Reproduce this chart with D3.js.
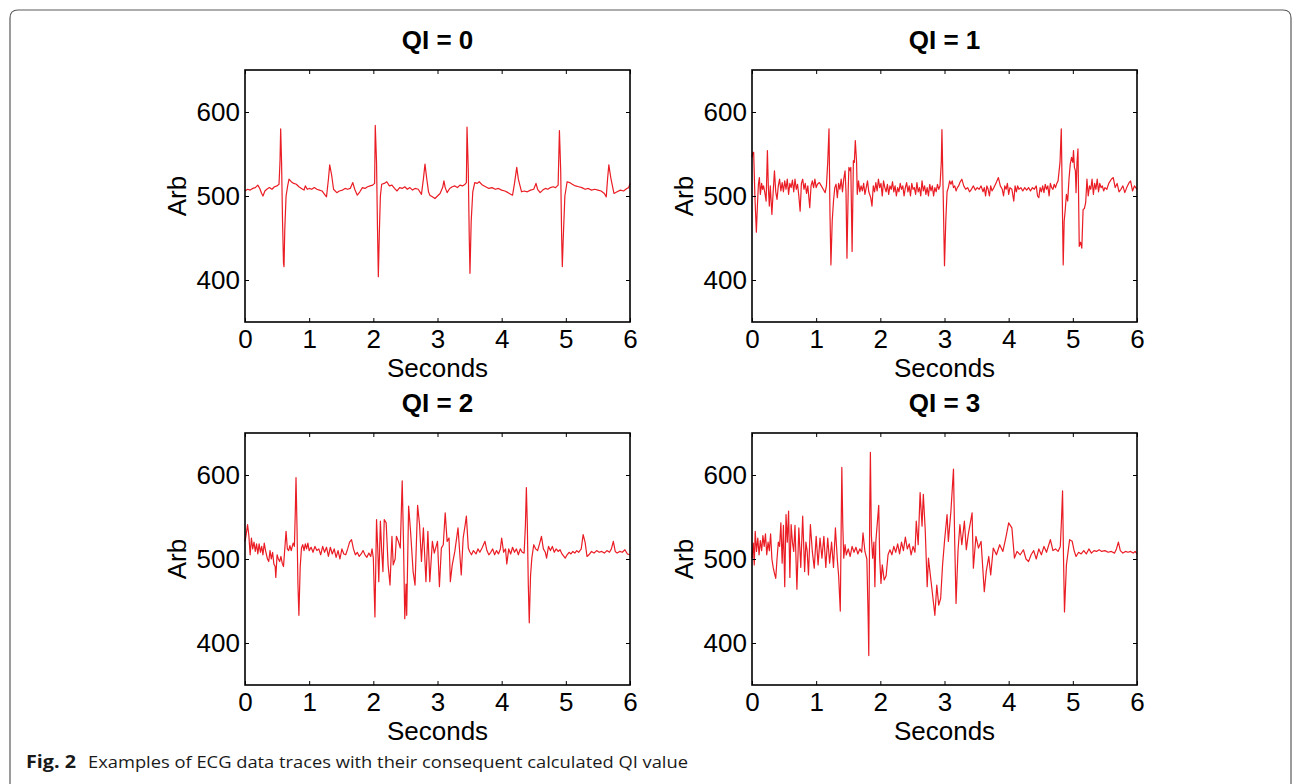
<!DOCTYPE html>
<html>
<head>
<meta charset="utf-8">
<script src="https://cdn.jsdelivr.net/npm/d3@7"></script>
<style>
    body { margin: 0; background: #ffffff; }
    svg { display: block; }
    .tick text { font-family: "Liberation Sans", Arial, sans-serif; font-size: 26px; fill: #000; }
    .tick line { stroke: #000; stroke-width: 1; }
</style>
</head>
<body>
<svg id="chart" width="1293" height="784"></svg>
<script>
// ECG traces: [seconds, arb]
var qi0 = [[0,506],[0.04,508],[0.08,507],[0.12,509],[0.16,510],[0.2,513],[0.23,509],[0.26,503],[0.28,500],[0.31,506],[0.34,508],[0.38,510],[0.42,508],[0.46,511],[0.5,512],[0.53,514],[0.545,540],[0.556,580],[0.57,540],[0.585,470],[0.6,420],[0.608,416],[0.62,460],[0.64,500],[0.665,512],[0.686,520],[0.72,517],[0.76,515],[0.8,514],[0.84,511],[0.88,509],[0.92,507],[0.94,512],[0.97,508],[1.0,509],[1.04,508],[1.08,510],[1.12,508],[1.16,507],[1.2,506],[1.24,502],[1.27,499],[1.3,520],[1.32,537],[1.35,525],[1.38,508],[1.43,504],[1.47,506],[1.52,507],[1.56,509],[1.6,508],[1.64,509],[1.68,516],[1.71,508],[1.75,501],[1.79,505],[1.83,510],[1.87,509],[1.91,511],[1.95,512],[1.99,513],[2.02,515],[2.03,584],[2.05,540],[2.065,460],[2.078,404],[2.095,460],[2.11,500],[2.13,514],[2.17,515],[2.21,517],[2.25,512],[2.29,513],[2.33,509],[2.37,506],[2.41,510],[2.45,509],[2.49,511],[2.53,508],[2.57,510],[2.61,507],[2.65,509],[2.7,508],[2.75,502],[2.78,520],[2.805,538],[2.83,522],[2.86,505],[2.88,501],[2.92,499],[2.96,497],[3.0,500],[3.04,503],[3.08,510],[3.1,518],[3.12,510],[3.15,504],[3.19,509],[3.23,511],[3.27,512],[3.31,510],[3.35,513],[3.39,512],[3.43,514],[3.45,516],[3.46,582],[3.48,530],[3.495,450],[3.506,408],[3.525,470],[3.55,505],[3.58,516],[3.62,515],[3.65,517],[3.7,513],[3.75,511],[3.8,509],[3.85,510],[3.9,508],[3.95,509],[4.0,507],[4.05,506],[4.1,504],[4.14,502],[4.17,501],[4.2,515],[4.235,534],[4.26,520],[4.31,505],[4.35,506],[4.4,505],[4.45,507],[4.5,508],[4.535,515],[4.56,508],[4.6,504],[4.64,507],[4.68,509],[4.72,508],[4.76,510],[4.8,511],[4.84,510],[4.88,513],[4.9,578],[4.92,530],[4.935,450],[4.945,416],[4.96,450],[4.985,500],[5.02,517],[5.06,516],[5.1,514],[5.15,512],[5.2,511],[5.25,510],[5.3,508],[5.35,509],[5.4,507],[5.45,508],[5.5,507],[5.55,506],[5.6,503],[5.63,499],[5.65,520],[5.67,537],[5.7,522],[5.75,503],[5.8,505],[5.85,507],[5.9,506],[5.95,509],[5.98,510],[6.0,515]];

var qi1 = [[0,546],[0.013,552],[0.026,552],[0.045,500],[0.068,457],[0.085,490],[0.1,514],[0.115,522],[0.13,502],[0.15,515],[0.165,508],[0.18,512],[0.2,504],[0.22,494],[0.24,554],[0.255,510],[0.27,488],[0.285,512],[0.31,478],[0.33,505],[0.35,530],[0.37,505],[0.39,496],[0.41,512],[0.43,520],[0.45,506],[0.47,516],[0.49,505],[0.51,518],[0.53,508],[0.55,520],[0.57,502],[0.59,515],[0.61,510],[0.63,519],[0.65,505],[0.67,520],[0.69,508],[0.71,514],[0.73,500],[0.75,482],[0.77,515],[0.79,520],[0.81,508],[0.83,515],[0.85,503],[0.87,512],[0.9,486],[0.92,512],[0.94,518],[0.96,510],[0.98,520],[1.0,510],[1.02,514],[1.05,516],[1.08,512],[1.11,508],[1.14,504],[1.16,512],[1.18,540],[1.2,580],[1.215,480],[1.23,418],[1.25,470],[1.27,494],[1.29,510],[1.31,514],[1.33,498],[1.35,515],[1.37,508],[1.39,520],[1.41,505],[1.43,520],[1.45,530],[1.465,505],[1.48,426],[1.5,510],[1.51,534],[1.53,530],[1.54,534],[1.56,434],[1.58,542],[1.595,540],[1.61,566],[1.63,540],[1.64,502],[1.66,518],[1.68,505],[1.7,512],[1.72,506],[1.74,515],[1.76,502],[1.78,510],[1.8,518],[1.82,505],[1.85,498],[1.87,488],[1.89,512],[1.91,505],[1.93,516],[1.95,506],[1.97,520],[1.99,510],[2.01,515],[2.03,500],[2.05,518],[2.07,510],[2.09,505],[2.11,514],[2.13,502],[2.15,512],[2.17,508],[2.19,517],[2.21,505],[2.23,512],[2.25,500],[2.27,510],[2.29,505],[2.31,515],[2.33,508],[2.35,512],[2.37,500],[2.39,510],[2.41,516],[2.43,505],[2.45,512],[2.47,500],[2.49,515],[2.51,508],[2.53,510],[2.55,502],[2.57,516],[2.59,505],[2.61,510],[2.63,500],[2.65,518],[2.67,506],[2.69,512],[2.71,502],[2.73,510],[2.75,500],[2.77,514],[2.79,506],[2.81,512],[2.83,500],[2.85,510],[2.87,505],[2.89,514],[2.91,508],[2.93,512],[2.95,540],[2.96,579],[2.98,500],[3.0,417],[3.02,470],[3.04,505],[3.06,510],[3.08,518],[3.1,514],[3.12,518],[3.14,510],[3.16,512],[3.18,506],[3.2,510],[3.22,512],[3.24,516],[3.27,520],[3.3,512],[3.33,508],[3.36,510],[3.39,505],[3.42,508],[3.45,512],[3.48,507],[3.51,510],[3.54,508],[3.57,512],[3.6,505],[3.62,510],[3.64,500],[3.66,512],[3.68,508],[3.7,500],[3.72,512],[3.74,506],[3.77,510],[3.8,515],[3.84,522],[3.87,512],[3.9,508],[3.92,500],[3.94,512],[3.96,508],[3.98,515],[4.0,502],[4.02,510],[4.05,508],[4.08,494],[4.1,512],[4.12,505],[4.14,512],[4.16,508],[4.19,510],[4.22,506],[4.25,510],[4.28,507],[4.31,510],[4.34,506],[4.37,510],[4.4,508],[4.43,512],[4.45,500],[4.47,498],[4.49,510],[4.51,505],[4.53,512],[4.55,504],[4.57,514],[4.59,508],[4.61,512],[4.63,500],[4.65,515],[4.67,510],[4.69,508],[4.71,514],[4.73,510],[4.75,515],[4.77,518],[4.8,540],[4.82,580],[4.835,500],[4.85,418],[4.865,470],[4.88,482],[4.9,502],[4.92,494],[4.94,520],[4.96,538],[4.98,546],[5.0,540],[5.01,554],[5.025,534],[5.04,530],[5.05,504],[5.065,540],[5.08,556],[5.1,440],[5.12,445],[5.14,438],[5.16,484],[5.18,485],[5.2,492],[5.22,520],[5.24,500],[5.26,512],[5.28,508],[5.3,520],[5.32,502],[5.34,515],[5.36,508],[5.38,520],[5.4,505],[5.42,515],[5.44,510],[5.46,512],[5.48,506],[5.5,510],[5.53,508],[5.56,515],[5.6,520],[5.63,522],[5.66,510],[5.69,515],[5.72,505],[5.75,508],[5.78,512],[5.81,504],[5.84,510],[5.87,515],[5.9,518],[5.93,506],[5.96,512],[6.0,508]];

var qi2 = [[0,521],[0.02,530],[0.04,541],[0.06,528],[0.08,505],[0.1,525],[0.12,512],[0.14,520],[0.16,509],[0.18,518],[0.2,506],[0.22,518],[0.24,508],[0.26,515],[0.28,505],[0.3,519],[0.32,510],[0.35,500],[0.37,497],[0.39,510],[0.41,500],[0.43,508],[0.45,494],[0.47,491],[0.48,478],[0.5,505],[0.52,500],[0.54,497],[0.56,503],[0.58,495],[0.6,491],[0.62,512],[0.64,533],[0.66,512],[0.68,510],[0.7,516],[0.72,510],[0.75,519],[0.77,515],[0.785,560],[0.795,597],[0.81,540],[0.825,470],[0.84,433],[0.86,490],[0.88,513],[0.9,517],[0.92,510],[0.94,518],[0.96,512],[0.98,519],[1.0,510],[1.03,514],[1.06,508],[1.09,515],[1.12,510],[1.15,512],[1.18,505],[1.21,515],[1.24,508],[1.27,514],[1.3,503],[1.33,514],[1.36,506],[1.39,512],[1.42,502],[1.45,510],[1.48,500],[1.51,512],[1.54,506],[1.57,505],[1.6,512],[1.63,520],[1.66,523],[1.69,512],[1.72,505],[1.75,508],[1.78,503],[1.81,506],[1.84,510],[1.87,505],[1.9,502],[1.93,507],[1.96,503],[1.98,512],[2.0,501],[2.025,431],[2.05,547],[2.07,510],[2.085,473],[2.11,545],[2.13,510],[2.15,485],[2.17,547],[2.2,543],[2.23,493],[2.26,469],[2.29,527],[2.31,493],[2.34,500],[2.36,527],[2.39,521],[2.42,513],[2.45,593],[2.47,520],[2.49,429],[2.51,470],[2.52,433],[2.55,563],[2.58,533],[2.62,485],[2.65,469],[2.69,564],[2.72,541],[2.75,497],[2.78,537],[2.82,473],[2.85,533],[2.88,473],[2.92,521],[2.95,507],[3.0,521],[3.03,467],[3.06,513],[3.09,517],[3.12,555],[3.15,521],[3.18,525],[3.2,473],[3.23,493],[3.27,509],[3.32,537],[3.37,481],[3.4,525],[3.43,540],[3.45,551],[3.48,513],[3.5,509],[3.53,505],[3.56,510],[3.6,506],[3.63,512],[3.66,508],[3.7,514],[3.74,521],[3.77,510],[3.8,505],[3.83,508],[3.86,512],[3.89,505],[3.92,510],[3.95,506],[3.98,512],[4.0,525],[4.03,508],[4.06,512],[4.08,494],[4.11,512],[4.14,506],[4.17,514],[4.2,508],[4.23,512],[4.26,505],[4.29,512],[4.32,508],[4.35,507],[4.37,540],[4.385,585],[4.4,540],[4.415,470],[4.43,424],[4.45,480],[4.47,501],[4.5,517],[4.53,512],[4.56,510],[4.59,518],[4.62,527],[4.65,512],[4.68,508],[4.7,501],[4.73,515],[4.76,510],[4.79,515],[4.82,508],[4.85,512],[4.88,509],[4.91,511],[4.94,506],[4.97,503],[4.99,501],[5.02,505],[5.05,508],[5.08,506],[5.11,509],[5.14,507],[5.17,510],[5.2,508],[5.24,512],[5.27,529],[5.3,520],[5.33,503],[5.36,505],[5.4,509],[5.44,507],[5.48,510],[5.52,508],[5.56,509],[5.6,507],[5.64,510],[5.68,508],[5.71,512],[5.74,521],[5.77,509],[5.8,507],[5.84,509],[5.88,508],[5.92,511],[5.96,506],[6.0,505]];

var qi3 = [[0,501],[0.02,519],[0.035,493],[0.05,533],[0.07,509],[0.09,525],[0.11,505],[0.13,522],[0.15,510],[0.17,528],[0.19,515],[0.21,530],[0.23,505],[0.25,520],[0.27,510],[0.29,530],[0.31,500],[0.33,490],[0.35,483],[0.37,477],[0.39,500],[0.41,520],[0.43,515],[0.45,543],[0.47,495],[0.49,540],[0.51,467],[0.53,553],[0.55,520],[0.57,557],[0.59,478],[0.61,541],[0.63,520],[0.65,509],[0.67,540],[0.7,464],[0.73,537],[0.76,490],[0.79,551],[0.82,485],[0.84,520],[0.86,509],[0.88,481],[0.91,541],[0.94,509],[0.97,489],[1.0,527],[1.03,493],[1.06,525],[1.09,501],[1.12,527],[1.15,490],[1.18,525],[1.21,495],[1.24,520],[1.27,490],[1.3,537],[1.33,499],[1.35,480],[1.376,438],[1.39,540],[1.4,609],[1.415,540],[1.43,501],[1.45,517],[1.47,505],[1.5,512],[1.53,503],[1.56,515],[1.59,508],[1.62,514],[1.65,506],[1.68,512],[1.71,508],[1.73,531],[1.76,509],[1.79,500],[1.81,430],[1.82,385],[1.835,560],[1.845,627],[1.86,529],[1.88,501],[1.9,520],[1.915,467],[1.93,521],[1.95,540],[1.975,564],[1.99,501],[2.01,471],[2.03,493],[2.06,475],[2.09,480],[2.12,505],[2.15,511],[2.18,505],[2.21,515],[2.24,508],[2.27,518],[2.3,506],[2.33,520],[2.36,510],[2.39,526],[2.42,512],[2.45,518],[2.48,505],[2.51,515],[2.54,508],[2.56,545],[2.59,517],[2.62,579],[2.65,539],[2.67,577],[2.7,534],[2.73,467],[2.75,501],[2.77,487],[2.8,467],[2.85,433],[2.88,469],[2.91,445],[2.94,453],[2.97,493],[3.0,521],[3.04,553],[3.06,521],[3.1,557],[3.14,607],[3.16,517],[3.18,447],[3.21,509],[3.24,541],[3.27,517],[3.31,545],[3.34,511],[3.37,529],[3.43,555],[3.45,489],[3.49,527],[3.53,513],[3.57,521],[3.62,461],[3.65,485],[3.69,503],[3.72,481],[3.76,513],[3.81,505],[3.86,517],[3.91,509],[3.96,527],[4.0,543],[4.05,537],[4.09,501],[4.13,509],[4.18,505],[4.23,511],[4.27,500],[4.31,497],[4.35,505],[4.39,510],[4.43,500],[4.47,512],[4.51,505],[4.55,515],[4.59,508],[4.65,523],[4.69,510],[4.73,512],[4.77,509],[4.805,515],[4.825,550],[4.84,581],[4.855,500],[4.87,437],[4.9,493],[4.95,523],[4.99,521],[5.02,510],[5.05,503],[5.09,508],[5.13,506],[5.17,510],[5.21,506],[5.25,512],[5.29,507],[5.33,510],[5.37,509],[5.41,511],[5.45,509],[5.5,510],[5.55,508],[5.6,509],[5.65,507],[5.68,512],[5.71,520],[5.74,510],[5.78,507],[5.82,509],[5.86,508],[5.9,509],[5.94,507],[5.97,509],[6.0,506]];

var titles = ["QI = 0", "QI = 1", "QI = 2", "QI = 3"];
var traces = [qi0, qi1, qi2, qi3];
var xTicks = [0, 1, 2, 3, 4, 5, 6];
var yTicks = [400, 500, 600];
var xDomain = [0, 6];
var yDomain = [350, 650];
var xLabel = "Seconds";
var yLabel = "Arb";
var captionBold = "Fig. 2";
var captionText = "Examples of ECG data traces with their consequent calculated QI value";

var plotW = 385, plotH = 252;
var lefts = [245, 752, 245, 752];
var tops = [70, 70, 433, 433];
var traceColor = "#ea1c24";
var fontFamily = "'Liberation Sans', Arial, sans-serif";

var svg = d3.select("#chart");

// rounded page frame, open at the bottom
svg.append("path")
    .attr("d", "M10,800 L10,18 Q10,10 18,10 L1283,10 Q1291,10 1291,18 L1291,800")
    .attr("fill", "none")
    .attr("stroke", "#5a5a5a")
    .attr("stroke-width", 1.2);

var x = d3.scaleLinear().domain(xDomain).range([0, plotW]);
var y = d3.scaleLinear().domain(yDomain).range([plotH, 0]);

var line = d3.line()
    .x(d => x(d[0]))
    .y(d => y(d[1]));

function drawPanel(i)
{
    var g = svg.append("g")
        .attr("transform", "translate(" + lefts[i] + "," + tops[i] + ")");

    g.append("path")
        .datum(traces[i])
        .attr("fill", "none")
        .attr("stroke", traceColor)
        .attr("stroke-width", 1.2)
        .attr("stroke-linejoin", "round")
        .attr("d", line);

    // inward ticks on all four sides, MATLAB style
    g.append("g")
        .attr("transform", "translate(0," + plotH + ")")
        .call(d3.axisBottom(x).tickValues(xTicks).tickSize(-4).tickPadding(7.5).tickFormat(d3.format("d")))
        .call(a => a.select(".domain").remove());

    g.append("g")
        .call(d3.axisTop(x).tickValues(xTicks).tickSize(-4).tickFormat(""))
        .call(a => a.select(".domain").remove());

    g.append("g")
        .call(d3.axisLeft(y).tickValues(yTicks).tickSize(-4).tickPadding(5).tickFormat(d3.format("d")))
        .call(a => a.select(".domain").remove());

    g.append("g")
        .attr("transform", "translate(" + plotW + ",0)")
        .call(d3.axisRight(y).tickValues(yTicks).tickSize(-4).tickFormat(""))
        .call(a => a.select(".domain").remove());

    g.append("rect")
        .attr("width", plotW)
        .attr("height", plotH)
        .attr("fill", "none")
        .attr("stroke", "#000")
        .attr("stroke-width", 1.6);

    g.append("text")
        .attr("x", plotW / 2)
        .attr("y", -21)
        .attr("text-anchor", "middle")
        .style("font-family", fontFamily)
        .style("font-size", "26px")
        .style("font-weight", "bold")
        .text(titles[i]);

    g.append("text")
        .attr("x", plotW / 2)
        .attr("y", plotH + 55)
        .attr("text-anchor", "middle")
        .style("font-family", fontFamily)
        .style("font-size", "26px")
        .text(xLabel);

    g.append("text")
        .attr("transform", "translate(-59," + (plotH / 2) + ") rotate(-90)")
        .attr("text-anchor", "middle")
        .style("font-family", fontFamily)
        .style("font-size", "26px")
        .text(yLabel);
}

for (var i = 0; i < 4; i++)
    drawPanel(i);

var caption = svg.append("text")
    .attr("x", 26)
    .attr("y", 768)
    .style("font-family", "'Open Sans', 'Noto Sans', sans-serif")
    .style("font-size", "17px")
    .style("fill", "#1a1a1a");

caption.append("tspan")
    .style("font-weight", "bold")
    .attr("textLength", 50)
    .attr("lengthAdjust", "spacingAndGlyphs")
    .text(captionBold);

caption.append("tspan")
    .attr("x", 88)
    .attr("textLength", 600)
    .attr("lengthAdjust", "spacingAndGlyphs")
    .text(captionText);
</script>
</body>
</html>
